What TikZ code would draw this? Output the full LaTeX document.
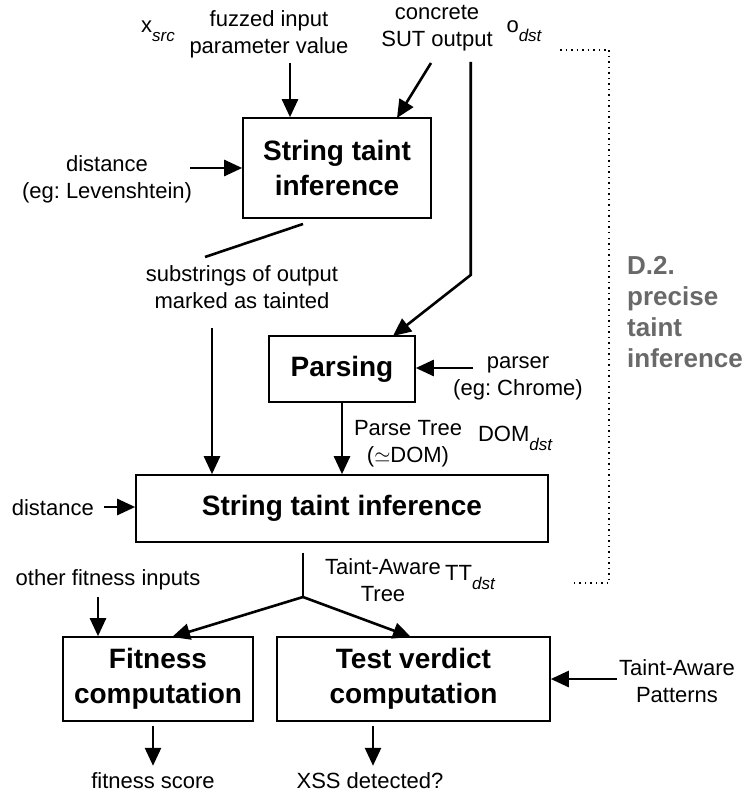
\documentclass[tikz,border=0pt]{standalone}
\usepackage{fontspec}
\setmainfont{Liberation Sans}
\usetikzlibrary{arrows.meta}
\definecolor{dgray}{RGB}{105,105,105}
\frenchspacing
\begin{document}
\begin{tikzpicture}[x=1pt,y=-1pt,
  lbl/.style={inner sep=0pt,align=center,font=\fontsize{22}{27}\selectfont},
  boxt/.style={draw,line width=1.6pt,inner sep=0pt,align=center,font=\fontsize{28}{35}\selectfont\bfseries},
  arr/.style={line width=2.6pt,-{Triangle[length=18pt,width=16pt]}},
  ln/.style={line width=2.6pt},
  dotl/.style={line width=1.4pt,dash pattern=on 1.5pt off 4pt}]
\useasboundingbox (0,0) rectangle (746,794);
% boxes
\node[boxt,minimum width=188pt,minimum height=100pt] (b1) at (337,168) {String taint\\inference};
\node[boxt,minimum width=146pt,minimum height=66pt] (pars) at (342,369) {Parsing};
\node[boxt,minimum width=412pt,minimum height=67pt] (big) at (342,508.5) {String taint inference};
\node[boxt,minimum width=190pt,minimum height=84pt] (fit) at (158,679) {Fitness\\computation};
\node[boxt,minimum width=273pt,minimum height=84pt] (test) at (413.5,679) {Test verdict\\computation};
% labels
\node[lbl] (xsrc) at (158,31) {x\raisebox{-9pt}{\fontsize{17}{17}\selectfont\itshape src}};
\node[lbl] (fuzz) at (269,34) {fuzzed input\\parameter value};
\node[lbl] (conc) at (437,28) {concrete\\SUT output};
\node[lbl] (odst) at (524,31) {o\raisebox{-9pt}{\fontsize{17}{17}\selectfont\itshape dst}};
\node[lbl] (dist1) at (107,179) {distance\\(eg: Levenshtein)};
\node[lbl] (subs) at (242,287) {substrings of output\\marked as tainted};
\node[lbl] (parser) at (518,378) {parser\\(eg: Chrome)};
\node[lbl] (ptree) at (408,444) {Parse Tree\\($\simeq$DOM)};
\node[lbl] (domdst) at (515,438) {DOM\raisebox{-9pt}{\fontsize{17}{17}\selectfont\itshape dst}};
\node[inner sep=0pt,align=left,anchor=north west,text=dgray,font=\fontsize{26}{31}\selectfont\bfseries] (d2) at (627,256) {D.2.\\precise\\taint\\inference};
\node[lbl,anchor=east] (dist2) at (94,508) {distance};
\node[lbl] (tatree) at (383,580) {Taint-Aware\\Tree};
\node[lbl] (ttdst) at (470,578) {TT\raisebox{-9pt}{\fontsize{17}{17}\selectfont\itshape dst}};
\node[lbl] (other) at (108,580) {other fitness inputs};
\node[lbl] (patt) at (677,681) {Taint-Aware\\Patterns};
\node[lbl] (fscore) at (153,781) {fitness score};
\node[lbl] (xss) at (370,781) {XSS detected?};
% coordinates
\coordinate (a1) at (290,63);
\coordinate (a2) at (431,63);
\coordinate (a2e) at (397,118);
\coordinate (a3) at (470.7,62);
\coordinate (a3k) at (470.7,275);
\coordinate (a3e) at (393,336);
\coordinate (a4) at (190,168);
\coordinate (l1) at (303,224);
\coordinate (l1e) at (205,257);
\coordinate (a5) at (212,328);
\coordinate (a6) at (473,368);
\coordinate (a7) at (104,507);
\coordinate (br) at (303,597);
\coordinate (a8) at (98,597);
\coordinate (fitin) at (172,637);
\coordinate (testin) at (411,637);
\coordinate (a9) at (617,679);
\coordinate (d1) at (560,50);
\coordinate (d2a) at (609,50);
\coordinate (d2b) at (609,583);
\coordinate (d3) at (572,583);
% connectors
\draw[arr] (a1) -- (a1 |- b1.north);
\draw[arr] (a2) -- (a2e);
\draw[arr] (a3) -- (a3k) -- (a3e);
\draw[arr] (a4) -- (a4 -| b1.west);
\draw[ln] (l1) -- (l1e);
\draw[arr] (a5) -- (a5 |- big.north);
\draw[arr] (pars.south) -- (big.north -| pars.south);
\draw[arr] (a6) -- (a6 -| pars.east);
\draw[arr] (a7) -- (a7 -| big.west);
\draw[ln] (big.south -| br) ++(0,10) -- (br);
\draw[arr] (br) -- (fitin);
\draw[arr] (br) -- (testin);
\draw[arr] (a8) -- (a8 |- fit.north);
\draw[arr] (a9) -- (a9 -| test.east);
\draw[arr] (fit.south -| fscore) ++(0,4) -- ++(0,40);
\draw[arr] (test.south -| 373,0) ++(0,4) -- ++(0,40);
\draw[dotl] (d1) -- (d2a) -- (d2b) -- (d3);
\end{tikzpicture}
\end{document}
